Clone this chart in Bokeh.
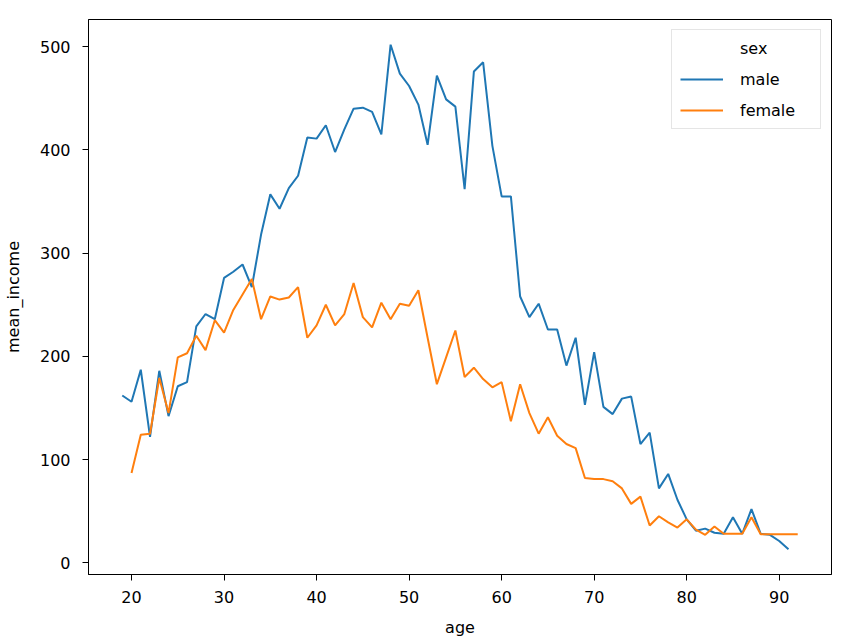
from bokeh.plotting import figure
from bokeh.models import Range1d, FixedTicker, Legend, LegendItem
from bokeh.embed import file_html
from bokeh.resources import INLINE

male_age = list(range(19, 92))
male_income = [162, 156, 187, 122, 186, 142, 171, 175, 229, 241,
               236, 276, 282, 289, 267, 318, 357, 343, 363, 375,
               412, 411, 424, 398, 420, 440, 441, 437, 415, 502,
               474, 462, 444, 405, 472, 449, 442, 362, 476, 485,
               404, 355, 355, 258, 238, 251, 226, 226, 191, 218,
               153, 204, 151, 144, 159, 161, 115, 126, 72, 86,
               61, 42, 31, 33, 29, 28, 44, 28, 52, 28,
               27, 21, 13]

female_age = list(range(20, 93))
female_income = [87, 124, 125, 179, 145, 199, 203, 220, 206, 235,
                 223, 245, 260, 275, 236, 258, 255, 257, 267, 218,
                 230, 250, 230, 241, 271, 238, 228, 252, 236, 251,
                 249, 264, 218, 173, 199, 225, 180, 189, 178, 170,
                 175, 137, 173, 145, 125, 141, 123, 115, 111, 82,
                 81, 81, 79, 72, 57, 64, 36, 45, 39, 34,
                 42, 32, 27, 35, 28, 28, 28, 44, 27.5, 27.5,
                 27.5, 27.5, 27.5]

x_ticks = [20, 30, 40, 50, 60, 70, 80, 90]
y_ticks = [0, 100, 200, 300, 400, 500]
legend_title = "sex"
series_names = ["male", "female"]
series_colors = ["#1f77b4", "#ff7f0e"]

all_x = male_age + female_age
all_y = male_income + female_income
xpad = 0.05 * (max(all_x) - min(all_x))
ypad = 0.05 * (max(all_y) - min(all_y))

FONT = "DejaVu Sans"
FS = "16px"
TXT = "black"

p = figure(width=845, height=641, output_backend="svg", toolbar_location=None,
           x_range=Range1d(min(all_x) - xpad, max(all_x) + xpad),
           y_range=Range1d(min(all_y) - ypad, max(all_y) + ypad),
           min_border_left=87, min_border_right=14, min_border_top=19,
           min_border_bottom=67)
p.background_fill_color = "white"
p.border_fill_color = "white"
p.outline_line_color = "black"
p.outline_line_width = 1
p.grid.visible = False

p.xaxis.ticker = FixedTicker(ticks=x_ticks)
p.yaxis.ticker = FixedTicker(ticks=y_ticks)
for ax in (p.xaxis, p.yaxis):
    ax.axis_line_color = "black"
    ax.major_tick_line_color = "black"
    ax.major_tick_out = 6
    ax.major_tick_in = 0
    ax.minor_tick_line_color = None
    ax.major_label_text_font = FONT
    ax.major_label_text_font_size = FS
    ax.major_label_text_color = TXT
    ax.axis_label_text_font = FONT
    ax.axis_label_text_font_size = FS
    ax.axis_label_text_font_style = "normal"
    ax.axis_label_text_color = TXT
p.xaxis.axis_label = "age"
p.yaxis.axis_label = "mean_income"
p.xaxis.major_label_standoff = 10
p.yaxis.major_label_standoff = 12
p.xaxis.axis_label_standoff = 12
p.yaxis.axis_label_standoff = 14

r_male = p.line(male_age, male_income, line_color=series_colors[0], line_width=2)
r_female = p.line(female_age, female_income, line_color=series_colors[1], line_width=2)

legend = Legend(items=[LegendItem(label=legend_title, renderers=[]),
                       LegendItem(label=series_names[0], renderers=[r_male]),
                       LegendItem(label=series_names[1], renderers=[r_female])],
                location="top_right")
legend.margin = 10
legend.padding = 8
legend.glyph_width = 43
legend.glyph_height = 20
legend.label_height = 20
legend.label_width = 72
legend.label_standoff = 17
legend.spacing = 11
legend.label_text_font = FONT
legend.label_text_font_size = FS
legend.label_text_color = TXT
legend.border_line_color = "#cccccc"
legend.border_line_width = 1
legend.background_fill_color = "white"
legend.background_fill_alpha = 0.8
legend.click_policy = "none"
p.add_layout(legend)

open("out.html", "w").write(file_html(p, INLINE))
